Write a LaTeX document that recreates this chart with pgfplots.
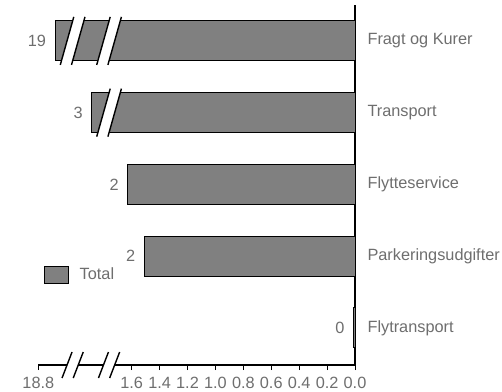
\documentclass[border=0pt]{standalone}
\usepackage{fontspec}
\setmainfont{Liberation Sans}
\usepackage{pgfplots}
\pgfplotsset{compat=1.18}
\definecolor{txt}{HTML}{6E6E6E}
\definecolor{barfill}{HTML}{808080}
\newcommand{\lblfont}{\fontsize{16.3}{19}\selectfont}
% break mark: x, y (axis cs), half height, half horizontal shift
\newcommand{\brk}[4]{%
  \fill[white] (axis cs:#1,#2) ++(-5.6pt-#4,-#3) -- ++(11.2pt,0pt) -- ++(2*#4,2*#3) -- ++(-11.2pt,0pt) -- cycle;
  \draw[black,line width=1.4pt] (axis cs:#1,#2) ++(-5.6pt-#4,-#3) -- ++(2*#4,2*#3);
  \draw[black,line width=1.4pt] (axis cs:#1,#2) ++(5.6pt-#4,-#3) -- ++(2*#4,2*#3);
}
\begin{document}
\begin{tikzpicture}
\begin{axis}[
  at={(38.3pt,26pt)}, anchor=south west,
  scale only axis, width=316.7pt, height=360pt,
  set layers, clip=false,
  xbar, bar width=40pt,
  x dir=reverse,
  xmin=0, xmax=2.269,
  ymin=-0.516, ymax=4.5,
  axis x line=bottom, axis y line=right,
  axis line style={-, line width=1.4pt, black},
  xtick={0,0.2,0.4,0.6,0.8,1.0,1.2,1.4,1.6,2.269},
  xticklabels={0.0,0.2,0.4,0.6,0.8,1.0,1.2,1.4,1.6,18.8},
  x tick style={black, line width=1pt},
  tick align=outside,
  major tick length=5pt,
  ytick={0,1,2,3,4},
  yticklabels={Flytransport,Parkeringsudgifter,Flytteservice,Transport,Fragt og Kurer},
  y tick style={draw=none},
  tick label style={font=\lblfont, text=txt},
  /pgf/number format/assume math mode=true,
  yticklabel style={anchor=west, xshift=4pt},
  xticklabel style={yshift=-3.5pt},
  nodes near coords, point meta=explicit symbolic,
  every node near coord/.append style={anchor=east, inner sep=0pt, xshift=-8.5pt, font=\lblfont, text=txt},
  legend style={draw=none, fill=none, at={(0.018,0.251)}, anchor=west, inner sep=0pt, font=\lblfont, text=txt},
  legend image code/.code={\draw[fill=barfill, draw=black, line width=1pt] (0pt,-8.5pt) rectangle (24pt,8.5pt); \path[draw=none,fill=none] (24pt,0pt) -- (33pt,0pt);},
]
\addplot[fill=barfill, draw=black, line width=1pt] table[x=d, y=y, meta=lab] {
d y lab
2.149 4 19
1.886 3 3
1.628 2 2
1.511 1 2
0.012 0 0
};
\addlegendentry{Total}
\begin{pgfonlayer}{axis foreground}
\brk{2.023}{4}{24pt}{6.75pt}
\brk{1.762}{4}{24pt}{6.75pt}
\brk{1.762}{3}{24pt}{6.75pt}
\brk{2.023}{-0.516}{13pt}{5pt}
\brk{1.762}{-0.516}{13pt}{5pt}
\end{pgfonlayer}
\end{axis}
\pgfresetboundingbox
\path[use as bounding box] (0,0) rectangle (502pt,391pt);
\end{tikzpicture}
\end{document}
